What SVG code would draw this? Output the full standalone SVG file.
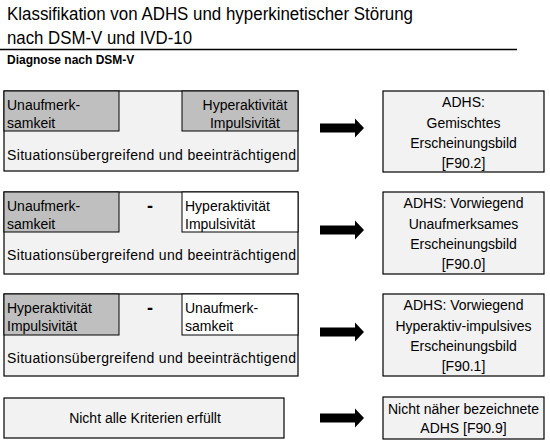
<svg xmlns="http://www.w3.org/2000/svg" width="550" height="447" viewBox="0 0 550 447">
<style>
  text { font-family: "Liberation Sans", Arial, sans-serif; fill: #000; }
  .t { font-size: 14px; }
  .c { text-anchor: middle; }
  .box { fill: #f2f2f2; stroke: #000; stroke-width: 1.2; }
  .gray { fill: #bfbfbf; stroke: #000; stroke-width: 1; }
  .white { fill: #ffffff; stroke: #000; stroke-width: 1; }
  .arrow { fill: #000; }
  .dash { font-size: 18px; font-weight: bold; text-anchor: middle; }
</style>
<defs>
  <path id="arr" d="M0,-4.5 H35 V-9.5 L44,0 L35,9.5 V4.5 H0 Z"/>
</defs>
<rect width="550" height="447" fill="#ffffff"/>

<g id="title">
  <text x="7" y="20" font-size="17.5" textLength="406" lengthAdjust="spacingAndGlyphs">Klassifikation von ADHS und hyperkinetischer Störung</text>
  <text x="7" y="44" font-size="17.5" textLength="185" lengthAdjust="spacingAndGlyphs">nach DSM-V und IVD-10</text>
  <line x1="0" y1="49.5" x2="517" y2="49.5" stroke="#000" stroke-width="1.3"/>
  <text x="7" y="64" font-size="12" font-weight="bold">Diagnose nach DSM-V</text>
</g>

<g id="criteria1">
  <rect class="box" x="4" y="91" width="294" height="80"/>
  <rect class="gray" x="4" y="91" width="115" height="40"/>
  <rect class="gray" x="182" y="91" width="116" height="40"/>
  <text class="t" x="7" y="110">Unaufmerk-</text>
  <text class="t" x="7" y="128">samkeit</text>
  <text class="t c" x="245" y="110">Hyperaktivität</text>
  <text class="t c" x="245" y="128">Impulsivität</text>
  <text class="t" x="7" y="160" textLength="289" lengthAdjust="spacing">Situationsübergreifend und beeinträchtigend</text>
</g>

<g id="criteria2">
  <rect class="box" x="4" y="192" width="294" height="82"/>
  <rect class="gray" x="4" y="192" width="115" height="40"/>
  <rect class="white" x="182" y="192" width="116" height="40"/>
  <text class="t" x="7" y="211">Unaufmerk-</text>
  <text class="t" x="7" y="229">samkeit</text>
  <text class="dash" x="150" y="212">-</text>
  <text class="t" x="185" y="211">Hyperaktivität</text>
  <text class="t" x="185" y="229">Impulsivität</text>
  <text class="t" x="7" y="260" textLength="289" lengthAdjust="spacing">Situationsübergreifend und beeinträchtigend</text>
</g>

<g id="criteria3">
  <rect class="box" x="4" y="294" width="294" height="82"/>
  <rect class="gray" x="4" y="294" width="115" height="41"/>
  <rect class="white" x="182" y="294" width="116" height="41"/>
  <text class="t" x="7" y="313">Hyperaktivität</text>
  <text class="t" x="7" y="331">Impulsivität</text>
  <text class="dash" x="150" y="314">-</text>
  <text class="t" x="185" y="313">Unaufmerk-</text>
  <text class="t" x="185" y="331">samkeit</text>
  <text class="t" x="7" y="363" textLength="289" lengthAdjust="spacing">Situationsübergreifend und beeinträchtigend</text>
</g>

<g id="criteria4">
  <rect class="box" x="4" y="398" width="280" height="40"/>
  <text class="t c" x="145" y="423">Nicht alle Kriterien erfüllt</text>
</g>

<g id="result1">
  <rect class="box" x="383" y="91" width="161" height="81"/>
  <text class="t c" x="463.5" y="107">ADHS:</text>
  <text class="t c" x="463.5" y="128">Gemischtes</text>
  <text class="t c" x="463.5" y="148">Erscheinungsbild</text>
  <text class="t c" x="463.5" y="168">[F90.2]</text>
</g>

<g id="result2">
  <rect class="box" x="383" y="192" width="161" height="82"/>
  <text class="t c" x="463.5" y="208">ADHS: Vorwiegend</text>
  <text class="t c" x="463.5" y="229">Unaufmerksames</text>
  <text class="t c" x="463.5" y="249">Erscheinungsbild</text>
  <text class="t c" x="463.5" y="269">[F90.0]</text>
</g>

<g id="result3">
  <rect class="box" x="383" y="294" width="161" height="82"/>
  <text class="t c" x="463.5" y="310">ADHS: Vorwiegend</text>
  <text class="t c" x="463.5" y="331">Hyperaktiv-impulsives</text>
  <text class="t c" x="463.5" y="351">Erscheinungsbild</text>
  <text class="t c" x="463.5" y="371">[F90.1]</text>
</g>

<g id="result4">
  <rect class="box" x="383" y="397" width="161" height="42"/>
  <text class="t c" x="463.5" y="414">Nicht näher bezeichnete</text>
  <text class="t c" x="463.5" y="433">ADHS [F90.9]</text>
</g>

<g id="connectors">
  <use href="#arr" class="arrow" transform="translate(320,128)"/>
  <use href="#arr" class="arrow" transform="translate(320,230)"/>
  <use href="#arr" class="arrow" transform="translate(320,332)"/>
  <use href="#arr" class="arrow" transform="translate(320,418)"/>
</g>
</svg>
